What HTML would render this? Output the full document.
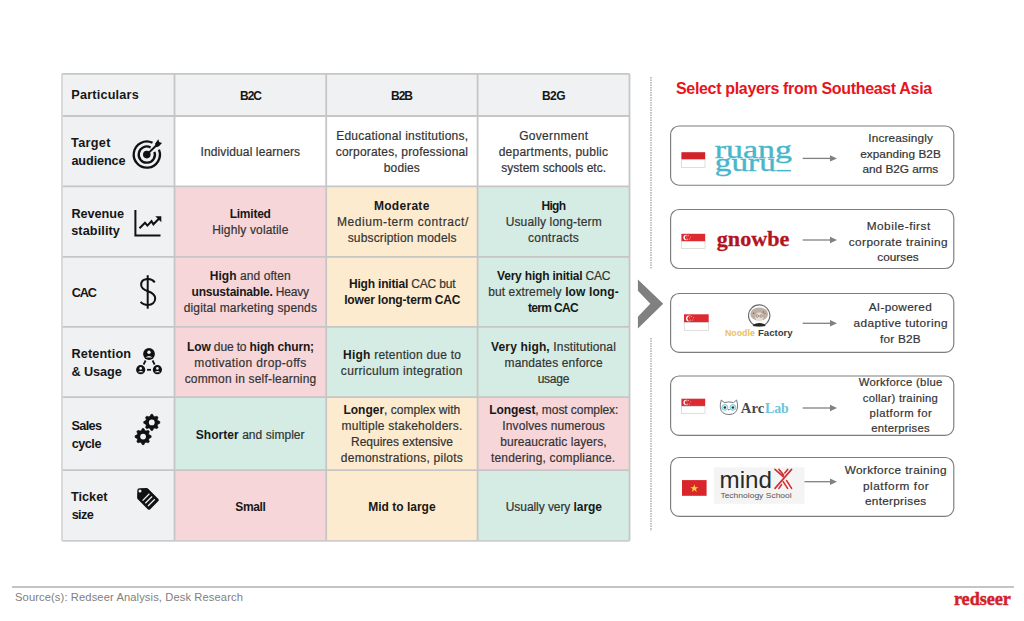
<!DOCTYPE html>
<html><head><meta charset="utf-8"><style>
*{margin:0;padding:0;box-sizing:border-box}
html,body{width:1024px;height:621px;overflow:hidden;background:#fff}
body{position:relative;font-family:"Liberation Sans",sans-serif;color:#2a2a2a}
.ic{position:absolute;left:0;top:0}
.t{position:absolute;width:300px;text-align:center;line-height:20px;white-space:nowrap}
.t{-webkit-text-stroke:0.2px currentColor}
.t b{color:#181818;-webkit-text-stroke:0}
.tb{-webkit-text-stroke:0}
.title{position:absolute;left:676px;top:80px;font-weight:bold;font-size:16px;letter-spacing:-0.33px;color:#e8141c;white-space:nowrap}
.foot{position:absolute;left:15px;top:590.5px;font-size:11.2px;letter-spacing:0.1px;color:#808080;white-space:nowrap}
</style></head><body>
<svg class="ic" width="1024" height="621" viewBox="0 0 1024 621">
<rect x="62" y="73.8" width="112.5" height="42.2" fill="#f0f1f3"/>
<rect x="174.5" y="73.8" width="151.7" height="42.2" fill="#f0f1f3"/>
<rect x="326.2" y="73.8" width="151.4" height="42.2" fill="#f0f1f3"/>
<rect x="477.6" y="73.8" width="151.9" height="42.2" fill="#f0f1f3"/>
<rect x="62" y="116" width="112.5" height="70.4" fill="#f0f1f3"/>
<rect x="174.5" y="116" width="151.7" height="70.4" fill="#ffffff"/>
<rect x="326.2" y="116" width="151.4" height="70.4" fill="#ffffff"/>
<rect x="477.6" y="116" width="151.9" height="70.4" fill="#ffffff"/>
<rect x="62" y="186.4" width="112.5" height="70.4" fill="#f0f1f3"/>
<rect x="174.5" y="186.4" width="151.7" height="70.4" fill="#f7d6d9"/>
<rect x="326.2" y="186.4" width="151.4" height="70.4" fill="#fdebcf"/>
<rect x="477.6" y="186.4" width="151.9" height="70.4" fill="#d4ece3"/>
<rect x="62" y="256.8" width="112.5" height="70.1" fill="#f0f1f3"/>
<rect x="174.5" y="256.8" width="151.7" height="70.1" fill="#f7d6d9"/>
<rect x="326.2" y="256.8" width="151.4" height="70.1" fill="#fdebcf"/>
<rect x="477.6" y="256.8" width="151.9" height="70.1" fill="#d4ece3"/>
<rect x="62" y="326.9" width="112.5" height="70.2" fill="#f0f1f3"/>
<rect x="174.5" y="326.9" width="151.7" height="70.2" fill="#f7d6d9"/>
<rect x="326.2" y="326.9" width="151.4" height="70.2" fill="#d4ece3"/>
<rect x="477.6" y="326.9" width="151.9" height="70.2" fill="#d4ece3"/>
<rect x="62" y="397.1" width="112.5" height="73.1" fill="#f0f1f3"/>
<rect x="174.5" y="397.1" width="151.7" height="73.1" fill="#d4ece3"/>
<rect x="326.2" y="397.1" width="151.4" height="73.1" fill="#fdebcf"/>
<rect x="477.6" y="397.1" width="151.9" height="73.1" fill="#f7d6d9"/>
<rect x="62" y="470.2" width="112.5" height="70.6" fill="#f0f1f3"/>
<rect x="174.5" y="470.2" width="151.7" height="70.6" fill="#f7d6d9"/>
<rect x="326.2" y="470.2" width="151.4" height="70.6" fill="#fdebcf"/>
<rect x="477.6" y="470.2" width="151.9" height="70.6" fill="#d4ece3"/>
<line x1="62" y1="73.8" x2="629.5" y2="73.8" stroke="#c6c6c6" stroke-width="1.8"/>
<line x1="62" y1="116" x2="629.5" y2="116" stroke="#c6c6c6" stroke-width="1.8"/>
<line x1="62" y1="186.4" x2="629.5" y2="186.4" stroke="#c6c6c6" stroke-width="1.8"/>
<line x1="62" y1="256.8" x2="629.5" y2="256.8" stroke="#c6c6c6" stroke-width="1.8"/>
<line x1="62" y1="326.9" x2="629.5" y2="326.9" stroke="#c6c6c6" stroke-width="1.8"/>
<line x1="62" y1="397.1" x2="629.5" y2="397.1" stroke="#c6c6c6" stroke-width="1.8"/>
<line x1="62" y1="470.2" x2="629.5" y2="470.2" stroke="#c6c6c6" stroke-width="1.8"/>
<line x1="62" y1="540.8" x2="629.5" y2="540.8" stroke="#cccccc" stroke-width="1.8"/>
<line x1="62" y1="73.8" x2="62" y2="540.8" stroke="#d6d6d6" stroke-width="1.8"/>
<line x1="174.5" y1="73.8" x2="174.5" y2="540.8" stroke="#c6c6c6" stroke-width="1.8"/>
<line x1="326.2" y1="73.8" x2="326.2" y2="540.8" stroke="#c6c6c6" stroke-width="1.8"/>
<line x1="477.6" y1="73.8" x2="477.6" y2="540.8" stroke="#c6c6c6" stroke-width="1.8"/>
<line x1="629.5" y1="73.8" x2="629.5" y2="540.8" stroke="#c6c6c6" stroke-width="1.8"/>
</svg>

<svg class="ic" width="1024" height="621" viewBox="0 0 1024 621">
 <!-- target -->
 <path d="M158.95 149.69 A13.1 13.1 0 1 1 152.54 142.83" fill="none" stroke="#111" stroke-width="2.3"/><path d="M154.41 151.83 A8.1 8.1 0 1 1 150.60 147.45" fill="none" stroke="#111" stroke-width="2.3"/><circle cx="146.8" cy="154.6" r="3.8" fill="#111"/><line x1="146.8" y1="154.6" x2="156.5" y2="145.3" stroke="#111" stroke-width="2"/><path d="M155 143.8 L158.3 139.3 L159.2 142.1 L162 143.1 L158.7 146.4 L156 147.2 Z" fill="#111"/>
 <!-- chart -->
 <g fill="none" stroke="#111" stroke-width="2" stroke-linejoin="miter">
  <path d="M135.4 210 V235.5 H160.5"/>
  <path d="M139.5 228.3 L145 222.8 L147.4 225.6 L151.5 221.2 L153.4 224.3 L159.3 218.2"/>
 </g>
 <path d="M155.3 216.3 L161.3 216.3 L161.3 222.3 Z" fill="#111"/>
 <!-- dollar -->
 <g fill="none" stroke="#111" stroke-width="2">
  <line x1="147.7" y1="275.2" x2="147.7" y2="308.7"/>
  <path d="M154.8 282.3 C152.5 279.4 148.8 278.8 146 279.3 C142.8 279.9 141 282.4 141.2 285.2 C141.4 288.6 144.5 290 148 291.3 C152.3 292.8 155.2 294.6 155.2 298.6 C155.2 302.4 152 304.9 148 304.9 C144.8 304.9 142.2 303.7 140.6 301.8"/>
 </g>
 <!-- network -->
 <g fill="#111">
  <circle cx="149" cy="354" r="5.9"/>
  <circle cx="140.7" cy="369.7" r="4.6"/>
  <circle cx="157.4" cy="369.7" r="4.6"/>
 </g>
 <g fill="#f0f1f3">
  <circle cx="149" cy="352.2" r="1.7"/>
  <path d="M145.4 357.6 Q149 354.4 152.6 357.6 Z"/>
  <circle cx="140.7" cy="368.4" r="1.3"/>
  <path d="M138 372.3 Q140.7 369.8 143.4 372.3 Z"/>
  <circle cx="157.4" cy="368.4" r="1.3"/>
  <path d="M154.7 372.3 Q157.4 369.8 160.1 372.3 Z"/>
 </g>
 <g stroke="#111" stroke-width="1.8">
  <line x1="145.6" y1="360.5" x2="143.6" y2="364.5"/>
  <line x1="152.6" y1="360.5" x2="154.6" y2="364.5"/>
  <line x1="147" y1="369.8" x2="151" y2="369.8"/>
 </g>
 <!-- gears -->
 <polygon points="151.01,414.34 152.59,414.34 153.63,416.37 154.77,416.84 156.94,416.14 158.06,417.26 157.36,419.43 157.83,420.57 159.86,421.61 159.86,423.19 157.83,424.23 157.36,425.37 158.06,427.54 156.94,428.66 154.77,427.96 153.63,428.43 152.59,430.46 151.01,430.46 149.97,428.43 148.83,427.96 146.66,428.66 145.54,427.54 146.24,425.37 145.77,424.23 143.74,423.19 143.74,421.61 145.77,420.57 146.24,419.43 145.54,417.26 146.66,416.14 148.83,416.84 149.97,416.37" fill="#111" stroke="#111" stroke-width="0.6" stroke-linejoin="round"/><circle cx="151.8" cy="422.4" r="2.9" fill="#f0f1f3"/><polygon points="142.31,428.54 143.89,428.54 144.93,430.57 146.07,431.04 148.24,430.34 149.36,431.46 148.66,433.63 149.13,434.77 151.16,435.81 151.16,437.39 149.13,438.43 148.66,439.57 149.36,441.74 148.24,442.86 146.07,442.16 144.93,442.63 143.89,444.66 142.31,444.66 141.27,442.63 140.13,442.16 137.96,442.86 136.84,441.74 137.54,439.57 137.07,438.43 135.04,437.39 135.04,435.81 137.07,434.77 137.54,433.63 136.84,431.46 137.96,430.34 140.13,431.04 141.27,430.57" fill="#111" stroke="#111" stroke-width="0.6" stroke-linejoin="round"/><circle cx="143.1" cy="436.6" r="2.9" fill="#f0f1f3"/>
 <!-- tag -->
 <path d="M137.3 490.6 Q137.3 488.3 139.6 488.3 L146.6 488.1 Q147.6 488.1 148.4 488.9 L158.4 499 Q159.3 500 158.4 501 L150 509.4 Q149 510.3 148 509.4 L137.8 499.2 Q137.1 498.5 137.1 497.5 Z" fill="#111"/>
 <circle cx="140" cy="491.1" r="1.5" fill="#f0f1f3"/>
 <g stroke="#f0f1f3" stroke-width="1.25">
  <line x1="142.6" y1="500.6" x2="149.4" y2="493.8"/>
  <line x1="145.3" y1="503.3" x2="152.1" y2="496.5"/>
  <line x1="148" y1="506" x2="154.8" y2="499.2"/>
 </g>
</svg>


<svg class="ic" width="1024" height="621" viewBox="0 0 1024 621">
 <line x1="651" y1="77" x2="651" y2="269" stroke="#9a9a9a" stroke-width="1.2" stroke-dasharray="1.5 1"/>
 <line x1="651" y1="338" x2="651" y2="531" stroke="#9a9a9a" stroke-width="1.2" stroke-dasharray="1.5 1"/>
 <path d="M637.9 279.6 L663.2 303.8 L637.9 328.6 L637.9 316.7 L650.3 303.8 L637.9 290.8 Z" fill="#808080"/>
 <rect x="670.6" y="126" width="283.2" height="59.2" rx="8.5" ry="8.5" fill="#fff" stroke="#7d7d7d" stroke-width="1.15"/>
 <rect x="670.6" y="209.5" width="283.2" height="59.0" rx="8.5" ry="8.5" fill="#fff" stroke="#7d7d7d" stroke-width="1.15"/>
 <rect x="670.6" y="293.5" width="283.2" height="58.9" rx="8.5" ry="8.5" fill="#fff" stroke="#7d7d7d" stroke-width="1.15"/>
 <rect x="670.6" y="376" width="283.2" height="59.3" rx="8.5" ry="8.5" fill="#fff" stroke="#7d7d7d" stroke-width="1.15"/>
 <rect x="670.6" y="457.5" width="283.2" height="58.8" rx="8.5" ry="8.5" fill="#fff" stroke="#7d7d7d" stroke-width="1.15"/>
 <line x1="802.7" y1="158.4" x2="831" y2="158.4" stroke="#808080" stroke-width="1.3"/><path d="M830 155.20000000000002 L837 158.4 L830 161.6 Z" fill="#808080"/>
 <line x1="802.7" y1="240" x2="831" y2="240" stroke="#808080" stroke-width="1.3"/><path d="M830 236.8 L837 240 L830 243.2 Z" fill="#808080"/>
 <line x1="802.7" y1="323.3" x2="831" y2="323.3" stroke="#808080" stroke-width="1.3"/><path d="M830 320.1 L837 323.3 L830 326.5 Z" fill="#808080"/>
 <line x1="802.7" y1="408" x2="831" y2="408" stroke="#808080" stroke-width="1.3"/><path d="M830 404.8 L837 408 L830 411.2 Z" fill="#808080"/>
 <line x1="802.7" y1="481.7" x2="831" y2="481.7" stroke="#808080" stroke-width="1.3"/><path d="M830 478.5 L837 481.7 L830 484.9 Z" fill="#808080"/>
</svg>


<svg class="ic" width="1024" height="621" viewBox="0 0 1024 621">
 <!-- ID flag -->
 <rect x="681.4" y="152.2" width="23.8" height="7.4" fill="#d2232a"/>
 <rect x="681.6" y="159.6" width="23.4" height="7.7" fill="#fff" stroke="#c8c8c8" stroke-width="0.6"/>
 <!-- SG flags -->
 <rect x="681.4" y="233.8" width="23.8" height="7.50" fill="#dd2a30"/><rect x="681.6" y="241.30" width="23.400000000000002" height="7.30" fill="#fff" stroke="#c8c8c8" stroke-width="0.6"/><circle cx="686.16" cy="237.55" r="2.70" fill="#fff"/><circle cx="687.11" cy="237.55" r="2.29" fill="#dd2a30"/><circle cx="688.59" cy="235.68" r="0.45" fill="#fff"/><circle cx="690.40" cy="236.95" r="0.45" fill="#fff"/><circle cx="689.74" cy="239.05" r="0.45" fill="#fff"/><circle cx="687.43" cy="239.05" r="0.45" fill="#fff"/><circle cx="686.77" cy="236.95" r="0.45" fill="#fff"/><rect x="684" y="314.3" width="24.7" height="8.20" fill="#dd2a30"/><rect x="684.2" y="322.50" width="24.3" height="8.00" fill="#fff" stroke="#c8c8c8" stroke-width="0.6"/><circle cx="688.94" cy="318.40" r="2.95" fill="#fff"/><circle cx="689.97" cy="318.40" r="2.51" fill="#dd2a30"/><circle cx="691.60" cy="316.35" r="0.45" fill="#fff"/><circle cx="693.58" cy="317.74" r="0.45" fill="#fff"/><circle cx="692.86" cy="320.04" r="0.45" fill="#fff"/><circle cx="690.33" cy="320.04" r="0.45" fill="#fff"/><circle cx="689.61" cy="317.74" r="0.45" fill="#fff"/><rect x="681.4" y="398.7" width="23.8" height="7.50" fill="#dd2a30"/><rect x="681.6" y="406.20" width="23.400000000000002" height="7.30" fill="#fff" stroke="#c8c8c8" stroke-width="0.6"/><circle cx="686.16" cy="402.45" r="2.70" fill="#fff"/><circle cx="687.11" cy="402.45" r="2.29" fill="#dd2a30"/><circle cx="688.59" cy="400.57" r="0.45" fill="#fff"/><circle cx="690.40" cy="401.85" r="0.45" fill="#fff"/><circle cx="689.74" cy="403.95" r="0.45" fill="#fff"/><circle cx="687.43" cy="403.95" r="0.45" fill="#fff"/><circle cx="686.77" cy="401.85" r="0.45" fill="#fff"/>
 <!-- VN flag -->
 <rect x="682" y="480.1" width="24.6" height="15.7" fill="#d8262b"/>
 <path d="M694.3 484.3 L695.3 487.2 L698.3 487.2 L695.9 489 L696.8 491.9 L694.3 490.1 L691.8 491.9 L692.7 489 L690.3 487.2 L693.3 487.2 Z" fill="#f5d63a"/>
 <!-- ruangguru -->
 <g fill="#48b6cb" stroke="#48b6cb" stroke-width="0.35" font-family="Liberation Serif" font-size="24.5">
  <text x="714.8" y="158.2" textLength="77.2" lengthAdjust="spacingAndGlyphs">ruang</text>
  <text x="714.8" y="170.6" textLength="61" lengthAdjust="spacingAndGlyphs">guru</text>
 </g>
 <rect x="776.5" y="169.9" width="14.5" height="1.5" fill="#48b6cb"/>
 <!-- gnowbe -->
 <text x="716.8" y="245.7" font-family="Liberation Serif" font-weight="bold" font-size="21.5" fill="#b3141f" stroke="#b3141f" stroke-width="0.3" textLength="72.5" lengthAdjust="spacingAndGlyphs">gnowbe</text>
 <!-- noodle factory -->
 <circle cx="759.2" cy="315.6" r="10.7" fill="#fff" stroke="#6b6b6b" stroke-width="1.1"/>
 <ellipse cx="759.2" cy="314" rx="8.9" ry="6.6" fill="#bfb0a5"/>
 <ellipse cx="759.2" cy="317" rx="4" ry="4.6" fill="#eadfd6"/>
 <circle cx="757.3" cy="316" r="1.3" fill="none" stroke="#6a5f58" stroke-width="0.6"/>
 <circle cx="761.1" cy="316" r="1.3" fill="none" stroke="#6a5f58" stroke-width="0.6"/>
 <path d="M752.6 325 Q759.2 320.8 765.8 325 L764.6 326.3 L753.8 326.3 Z" fill="#262626"/>
 <circle cx="753.6" cy="313.2" r="0.8" fill="#e23b3b"/>
 <circle cx="763.4" cy="312" r="0.8" fill="#e23b3b"/>
 <circle cx="765" cy="313.6" r="0.7" fill="#e23b3b"/>
 <text x="725" y="336" font-family="Liberation Sans" font-weight="bold" font-size="9" fill="#eac060" textLength="29.8" lengthAdjust="spacingAndGlyphs">Noodle</text>
 <text x="757.9" y="336" font-family="Liberation Sans" font-weight="bold" font-size="9" fill="#3b3b3b" textLength="34.8" lengthAdjust="spacingAndGlyphs">Factory</text>
 <!-- arclab owl -->
 <path d="M721.3 400 L724.2 402.6 Q728.9 401.2 733.6 402.6 L736.6 400 Q738.1 404.5 737.4 408 Q736.5 414.3 728.9 414.6 Q721.3 414.3 720.4 408 Q719.8 404.5 721.3 400 Z" fill="#fff" stroke="#6a6a6a" stroke-width="0.9"/>
 <circle cx="724.9" cy="407.4" r="2.9" fill="#d6eef5" stroke="#6cc4dc" stroke-width="0.9"/>
 <circle cx="732.9" cy="407.4" r="2.9" fill="#d6eef5" stroke="#6cc4dc" stroke-width="0.9"/>
 <circle cx="724.9" cy="407.5" r="1.2" fill="#333"/>
 <circle cx="732.9" cy="407.5" r="1.2" fill="#333"/>
 <path d="M728.1 409 L729.7 409 L728.9 410.8 Z" fill="#444"/>
 <text x="740.8" y="412.6" font-family="Liberation Serif" font-weight="bold" font-size="15" fill="#4a4a4a" textLength="23.4" lengthAdjust="spacingAndGlyphs">Arc</text>
 <text x="765" y="412.6" font-family="Liberation Serif" font-weight="bold" font-size="15" fill="#6cc4dc" textLength="23.8" lengthAdjust="spacingAndGlyphs">Lab</text>
 <!-- mindx -->
 <rect x="714" y="467.3" width="90.5" height="36.5" fill="#f4f4f4"/>
 <text x="719.6" y="487.9" font-family="Liberation Sans" font-size="24" fill="#2a2a2a" textLength="52.4" lengthAdjust="spacingAndGlyphs">mind</text>
 <g stroke="#d62a31" stroke-width="1.6" fill="none" stroke-linecap="round">
  <path d="M775 488.4 L791.6 469.4"/>
  <path d="M778.9 488.4 L781.6 484.6 M784.8 473 L787.7 469.4"/>
  <path d="M775 469.4 L783.2 476.6 M779 469.4 L783.6 475"/>
  <path d="M783.2 481.6 L787.6 488.4 M786.6 480.6 L791.6 488.4"/>
 </g>
 <text x="720.4" y="498.2" font-family="Liberation Sans" font-size="7.6" fill="#555" textLength="71.3" lengthAdjust="spacingAndGlyphs">Technology School</text>
</svg>

<div class="t" style="left:100.30px;top:142.10px;font-size:12.0px;letter-spacing:0.118px;padding-left:0.118px;color:#333">Individual learners</div>
<div class="t" style="left:252.15px;top:125.80px;font-size:12.0px;letter-spacing:0.239px;padding-left:0.239px;color:#333">Educational institutions,</div>
<div class="t" style="left:251.95px;top:141.90px;font-size:12.0px;letter-spacing:0.178px;padding-left:0.178px;color:#333">corporates, professional</div>
<div class="t" style="left:251.80px;top:158.00px;font-size:12.0px;letter-spacing:0.112px;padding-left:0.112px;color:#333">bodies</div>
<div class="t" style="left:403.60px;top:125.80px;font-size:12.0px;letter-spacing:0.316px;padding-left:0.316px;color:#333">Government</div>
<div class="t" style="left:403.35px;top:141.90px;font-size:12.0px;letter-spacing:0.261px;padding-left:0.261px;color:#333">departments, public</div>
<div class="t" style="left:403.70px;top:158.00px;font-size:12.0px;letter-spacing:0.000px;padding-left:0.000px;color:#333">system schools etc.</div>
<div class="t" style="left:100.20px;top:203.80px;font-size:12.0px;letter-spacing:-0.227px;padding-left:-0.227px;color:#333"><b>Limited</b></div>
<div class="t" style="left:100.30px;top:219.90px;font-size:12.0px;letter-spacing:0.147px;padding-left:0.147px;color:#333">Highly volatile</div>
<div class="t" style="left:251.65px;top:196.00px;font-size:12.0px;letter-spacing:0.294px;padding-left:0.294px;color:#333"><b>Moderate</b></div>
<div class="t" style="left:252.70px;top:212.10px;font-size:12.0px;letter-spacing:0.562px;padding-left:0.562px;color:#333">Medium-term contract/</div>
<div class="t" style="left:252.15px;top:228.30px;font-size:12.0px;letter-spacing:0.162px;padding-left:0.162px;color:#333">subscription models</div>
<div class="t" style="left:403.45px;top:196.00px;font-size:12.0px;letter-spacing:-0.680px;padding-left:-0.680px;color:#333"><b>High</b></div>
<div class="t" style="left:403.65px;top:212.10px;font-size:12.0px;letter-spacing:0.165px;padding-left:0.165px;color:#333">Usually long-term</div>
<div class="t" style="left:403.35px;top:228.30px;font-size:12.0px;letter-spacing:0.268px;padding-left:0.268px;color:#333">contracts</div>
<div class="t" style="left:100.15px;top:266.30px;font-size:12.0px;letter-spacing:0.072px;padding-left:0.072px;color:#333"><b>High</b> and often</div>
<div class="t" style="left:100.20px;top:282.40px;font-size:12.0px;letter-spacing:-0.202px;padding-left:-0.202px;color:#333"><b>unsustainable.</b> Heavy</div>
<div class="t" style="left:100.30px;top:298.30px;font-size:12.0px;letter-spacing:0.169px;padding-left:0.169px;color:#333">digital marketing spends</div>
<div class="t" style="left:252.15px;top:274.10px;font-size:12.0px;letter-spacing:-0.178px;padding-left:-0.178px;color:#333"><b>High initial</b> CAC but</div>
<div class="t" style="left:252.25px;top:290.20px;font-size:12.0px;letter-spacing:-0.163px;padding-left:-0.163px;color:#333"><b>lower long-term CAC</b></div>
<div class="t" style="left:403.70px;top:266.30px;font-size:12.0px;letter-spacing:-0.193px;padding-left:-0.193px;color:#333"><b>Very high initial</b> CAC</div>
<div class="t" style="left:403.45px;top:282.40px;font-size:12.0px;letter-spacing:0.116px;padding-left:0.116px;color:#333">but extremely <b>low long-</b></div>
<div class="t" style="left:402.95px;top:298.30px;font-size:12.0px;letter-spacing:-0.674px;padding-left:-0.674px;color:#333"><b>term CAC</b></div>
<div class="t" style="left:100.55px;top:337.10px;font-size:12.0px;letter-spacing:-0.144px;padding-left:-0.144px;color:#333"><b>Low</b> due to <b>high churn;</b></div>
<div class="t" style="left:100.35px;top:353.20px;font-size:12.0px;letter-spacing:0.359px;padding-left:0.359px;color:#333">motivation drop-offs</div>
<div class="t" style="left:100.45px;top:369.10px;font-size:12.0px;letter-spacing:0.192px;padding-left:0.192px;color:#333">common in self-learning</div>
<div class="t" style="left:252.00px;top:344.90px;font-size:12.0px;letter-spacing:0.224px;padding-left:0.224px;color:#333"><b>High</b> retention due to</div>
<div class="t" style="left:251.60px;top:361.00px;font-size:12.0px;letter-spacing:0.323px;padding-left:0.323px;color:#333">curriculum integration</div>
<div class="t" style="left:403.45px;top:337.10px;font-size:12.0px;letter-spacing:0.149px;padding-left:0.149px;color:#333"><b>Very high,</b> Institutional</div>
<div class="t" style="left:403.60px;top:353.20px;font-size:12.0px;letter-spacing:0.136px;padding-left:0.136px;color:#333">mandates enforce</div>
<div class="t" style="left:403.40px;top:369.10px;font-size:12.0px;letter-spacing:-0.250px;padding-left:-0.250px;color:#333">usage</div>
<div class="t" style="left:100.20px;top:424.80px;font-size:12.0px;letter-spacing:0.038px;padding-left:0.038px;color:#333"><b>Shorter</b> and simpler</div>
<div class="t" style="left:251.80px;top:400.40px;font-size:12.0px;letter-spacing:0.001px;padding-left:0.001px;color:#333"><b>Longer</b>, complex with</div>
<div class="t" style="left:251.95px;top:416.40px;font-size:12.0px;letter-spacing:0.227px;padding-left:0.227px;color:#333">multiple stakeholders.</div>
<div class="t" style="left:251.95px;top:432.30px;font-size:12.0px;letter-spacing:-0.015px;padding-left:-0.015px;color:#333">Requires extensive</div>
<div class="t" style="left:251.85px;top:448.20px;font-size:12.0px;letter-spacing:0.252px;padding-left:0.252px;color:#333">demonstrations, pilots</div>
<div class="t" style="left:403.75px;top:400.40px;font-size:12.0px;letter-spacing:-0.070px;padding-left:-0.070px;color:#333"><b>Longest</b>, most complex:</div>
<div class="t" style="left:403.60px;top:416.40px;font-size:12.0px;letter-spacing:0.110px;padding-left:0.110px;color:#333">Involves numerous</div>
<div class="t" style="left:403.40px;top:432.30px;font-size:12.0px;letter-spacing:0.095px;padding-left:0.095px;color:#333">bureaucratic layers,</div>
<div class="t" style="left:403.10px;top:448.20px;font-size:12.0px;letter-spacing:0.161px;padding-left:0.161px;color:#333">tendering, compliance.</div>
<div class="t" style="left:100.45px;top:496.60px;font-size:12.0px;letter-spacing:-0.360px;padding-left:-0.360px;color:#333"><b>Small</b></div>
<div class="t" style="left:251.90px;top:496.60px;font-size:12.0px;letter-spacing:0.016px;padding-left:0.016px;color:#333"><b>Mid to large</b></div>
<div class="t" style="left:403.85px;top:496.60px;font-size:12.0px;letter-spacing:-0.069px;padding-left:-0.069px;color:#333">Usually very <b>large</b></div>
<div class="t tb" style="left:-45.00px;top:85.40px;font-size:12.7px;letter-spacing:0.184px;padding-left:0.184px;font-weight:bold;color:#161616">Particulars</div>
<div class="t tb" style="left:-59.25px;top:132.80px;font-size:12.7px;letter-spacing:0.311px;padding-left:0.311px;font-weight:bold;color:#161616">Target</div>
<div class="t tb" style="left:-51.55px;top:150.50px;font-size:12.7px;letter-spacing:-0.122px;padding-left:-0.122px;font-weight:bold;color:#161616">audience</div>
<div class="t tb" style="left:-52.35px;top:203.60px;font-size:12.7px;letter-spacing:-0.060px;padding-left:-0.060px;font-weight:bold;color:#161616">Revenue</div>
<div class="t tb" style="left:-54.45px;top:221.30px;font-size:12.7px;letter-spacing:0.099px;padding-left:0.099px;font-weight:bold;color:#161616">stability</div>
<div class="t tb" style="left:-66.35px;top:282.60px;font-size:12.7px;letter-spacing:-1.200px;padding-left:-1.200px;font-weight:bold;color:#161616">CAC</div>
<div class="t tb" style="left:-48.80px;top:344.10px;font-size:12.7px;letter-spacing:0.144px;padding-left:0.144px;font-weight:bold;color:#161616">Retention</div>
<div class="t tb" style="left:-53.45px;top:361.70px;font-size:12.7px;letter-spacing:-0.067px;padding-left:-0.067px;font-weight:bold;color:#161616">&amp; Usage</div>
<div class="t tb" style="left:-63.55px;top:415.70px;font-size:12.7px;letter-spacing:-0.603px;padding-left:-0.603px;font-weight:bold;color:#161616">Sales</div>
<div class="t tb" style="left:-63.70px;top:433.50px;font-size:12.7px;letter-spacing:-0.478px;padding-left:-0.478px;font-weight:bold;color:#161616">cycle</div>
<div class="t tb" style="left:-60.75px;top:487.40px;font-size:12.7px;letter-spacing:-0.010px;padding-left:-0.010px;font-weight:bold;color:#161616">Ticket</div>
<div class="t tb" style="left:-67.55px;top:505.30px;font-size:12.7px;letter-spacing:-0.601px;padding-left:-0.601px;font-weight:bold;color:#161616">size</div>
<div class="t tb" style="left:100.55px;top:85.60px;font-size:12px;letter-spacing:-1.000px;padding-left:-1.000px;font-weight:bold;color:#161616">B2C</div>
<div class="t tb" style="left:251.50px;top:85.60px;font-size:12px;letter-spacing:-0.950px;padding-left:-0.950px;font-weight:bold;color:#161616">B2B</div>
<div class="t tb" style="left:403.50px;top:85.60px;font-size:12px;letter-spacing:-0.480px;padding-left:-0.480px;font-weight:bold;color:#161616">B2G</div>
<div class="t" style="left:750.65px;top:128.00px;font-size:11.8px;letter-spacing:0.150px;padding-left:0.150px;color:#333">Increasingly</div>
<div class="t" style="left:750.50px;top:143.50px;font-size:11.8px;letter-spacing:0.053px;padding-left:0.053px;color:#333">expanding B2B</div>
<div class="t" style="left:750.40px;top:159.00px;font-size:11.8px;letter-spacing:-0.032px;padding-left:-0.032px;color:#333">and B2G arms</div>
<div class="t" style="left:748.50px;top:215.70px;font-size:11.8px;letter-spacing:0.545px;padding-left:0.545px;color:#333">Mobile-first</div>
<div class="t" style="left:748.15px;top:231.50px;font-size:11.8px;letter-spacing:0.408px;padding-left:0.408px;color:#333">corporate training</div>
<div class="t" style="left:748.00px;top:247.30px;font-size:11.8px;letter-spacing:-0.000px;padding-left:-0.000px;color:#333">courses</div>
<div class="t" style="left:750.20px;top:296.80px;font-size:11.8px;letter-spacing:0.305px;padding-left:0.305px;color:#333">AI-powered</div>
<div class="t" style="left:750.50px;top:312.70px;font-size:11.8px;letter-spacing:0.427px;padding-left:0.427px;color:#333">adaptive tutoring</div>
<div class="t" style="left:750.35px;top:328.60px;font-size:11.8px;letter-spacing:0.208px;padding-left:0.208px;color:#333">for B2B</div>
<div class="t" style="left:750.50px;top:372.30px;font-size:11.3px;letter-spacing:0.296px;padding-left:0.296px;color:#333">Workforce (blue</div>
<div class="t" style="left:750.35px;top:387.50px;font-size:11.3px;letter-spacing:0.269px;padding-left:0.269px;color:#333">collar) training</div>
<div class="t" style="left:750.65px;top:402.90px;font-size:11.3px;letter-spacing:0.462px;padding-left:0.462px;color:#333">platform for</div>
<div class="t" style="left:750.45px;top:418.00px;font-size:11.3px;letter-spacing:0.252px;padding-left:0.252px;color:#333">enterprises</div>
<div class="t" style="left:745.60px;top:459.80px;font-size:11.8px;letter-spacing:0.375px;padding-left:0.375px;color:#333">Workforce training</div>
<div class="t" style="left:745.85px;top:475.50px;font-size:11.8px;letter-spacing:0.559px;padding-left:0.559px;color:#333">platform for</div>
<div class="t" style="left:745.55px;top:491.10px;font-size:11.8px;letter-spacing:0.285px;padding-left:0.285px;color:#333">enterprises</div>
<div class="title">Select players from Southeast Asia</div>
<div style="position:absolute;left:12px;top:586px;width:1002px;height:2px;background:#c4c4c4"></div>
<div class="foot">Source(s): Redseer Analysis, Desk Research</div>
<svg class="ic" width="1024" height="621" viewBox="0 0 1024 621"><text x="953.9" y="604.7" font-family="Liberation Serif" font-weight="bold" font-size="19.5" fill="#d41f2c" stroke="#d41f2c" stroke-width="0.5" textLength="57" lengthAdjust="spacingAndGlyphs">redseer</text></svg>
</body></html>
